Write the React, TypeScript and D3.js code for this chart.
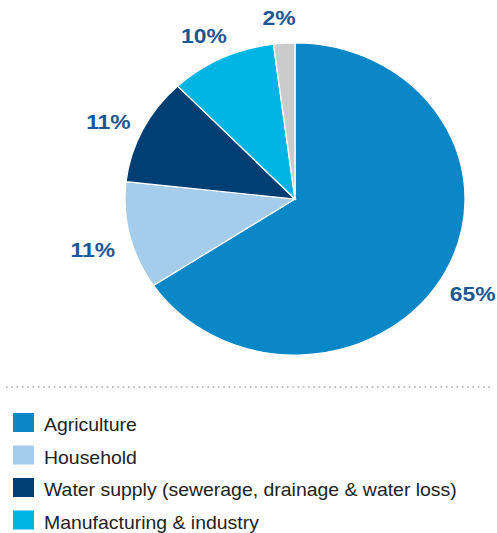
import React from "react";
import * as d3 from "d3";

const categories = [
  "Agriculture",
  "Household",
  "Water supply (sewerage, drainage & water loss)",
  "Manufacturing & industry",
  "Other",
];
const values = [65, 11, 11, 10, 2];
const labels = ["65%", "11%", "11%", "10%", "2%"];
const colors = ["#0a87c7", "#a5cdeb", "#003f73", "#00b4e4", "#cbcbcb"];
const legendItems = [0, 1, 2, 3];

const W = 497;
const H = 533;
const cx = 295;
const cy = 199;
const R = 156;
const sx = 1.09;
const labelR = 188;

export default function App() {
  const pie = d3.pie<number>().sort(null).value((d) => d)(values);
  const arc = d3.arc<d3.PieArcDatum<number>>().innerRadius(0).outerRadius(R);
  const labelArc = d3
    .arc<d3.PieArcDatum<number>>()
    .innerRadius(labelR)
    .outerRadius(labelR);

  const legendY = d3.scaleBand<number>().domain(legendItems).range([409, 539]).paddingInner(0);

  return (
    <svg
      width={W}
      height={H}
      style={{ position: "absolute", left: 0, top: 0, background: "#fff" }}
      fontFamily="'Liberation Sans', Arial, sans-serif"
    >
      <g transform={`translate(${cx},${cy}) scale(${sx},1)`}>
        {pie.map((p, i) => (
          <path key={i} d={arc(p) || ""} fill={colors[i]} stroke="#fff" strokeWidth={1.2} />
        ))}
      </g>
      {pie.map((p, i) => {
        const [x, y] = labelArc.centroid(p);
        return (
          <g key={i} transform={`translate(${cx + x * sx - 3},${cy + y + 6}) scale(${sx},1)`}>
            <text
              dy="0.36em"
              textAnchor="middle"
              fontSize={21}
              fontWeight={700}
              fill="#1d5695"
            >
              {labels[i]}
            </text>
          </g>
        );
      })}
      <line
        x1={6}
        x2={492}
        y1={387}
        y2={387}
        stroke="#a8a8a8"
        strokeWidth={1.6}
        strokeDasharray="1.6 3.7"
      />
      {legendItems.map((i) => {
        const y = legendY(i) as number;
        return (
          <g key={i}>
            <rect x={13} y={y + 4} width={21} height={19} fill={colors[i]} />
            <g transform={`translate(44,${y + 22}) scale(1.08,1)`}>
              <text fontSize={18} fill="#222">
                {categories[i]}
              </text>
            </g>
          </g>
        );
      })}
    </svg>
  );
}
